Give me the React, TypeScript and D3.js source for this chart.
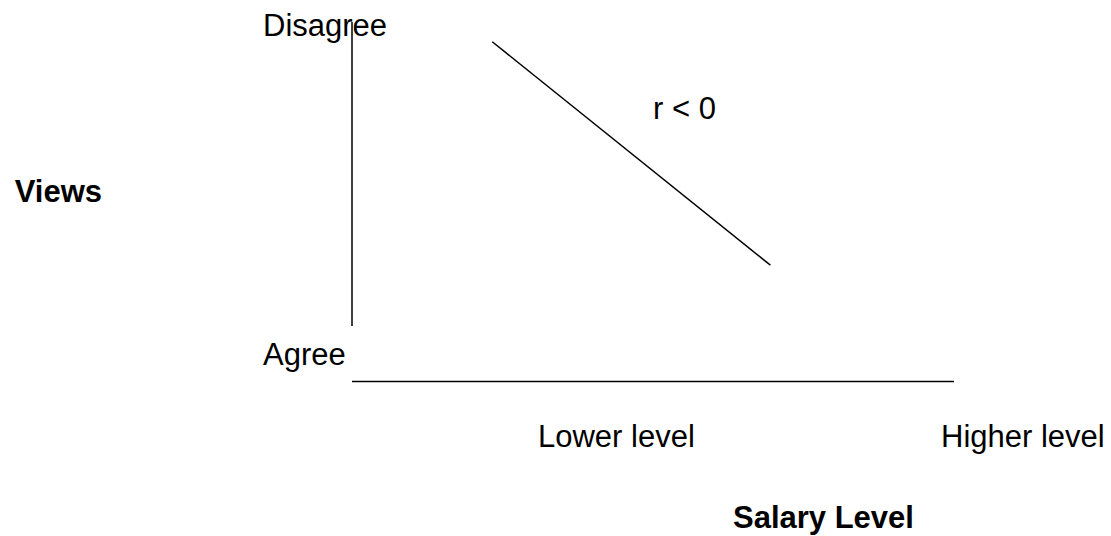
import React from "react";
import * as d3 from "d3";

// Conceptual diagram: views vs salary level, negative correlation
const yLabels = ["Agree", "Disagree"];
const xLabels = ["Lower level", "Higher level"];
const trendLine = [
  { salary: 0.233, view: 0.935 },
  { salary: 0.695, view: 0.2 },
];
const corrLabel = "r < 0";
const xTitle = "Salary Level";
const yTitle = "Views";

const width = 1111;
const height = 536;

const App: React.FC = () => {
  // axes span in pixels
  const xScale = d3.scaleLinear().domain([0, 1]).range([352, 954]);
  const yScale = d3.scaleLinear().domain([0, 1]).range([326, 22]);

  const line = d3
    .line<{ salary: number; view: number }>()
    .x((d) => xScale(d.salary))
    .y((d) => yScale(d.view));

  const font = "'Liberation Sans', Arial, sans-serif";

  return (
    <svg
      width={width}
      height={height}
      style={{ position: "absolute", left: 0, top: 0, background: "#fff" }}
    >
      {/* vertical axis */}
      <line
        x1={xScale(0)}
        x2={xScale(0)}
        y1={yScale(1)}
        y2={yScale(0)}
        stroke="#000"
        strokeWidth={1.5}
      />
      {/* horizontal axis */}
      <line
        x1={xScale(0)}
        x2={xScale(1)}
        y1={381.5}
        y2={381.5}
        stroke="#000"
        strokeWidth={1.5}
      />
      <path d={line(trendLine) || ""} fill="none" stroke="#000" strokeWidth={1.5} />

      <g fontFamily={font} fontSize={31} fill="#000">
        <text x={263} y={365}>{yLabels[0]}</text>
        <text x={263} y={36}>{yLabels[1]}</text>
        <text x={538} y={447}>{xLabels[0]}</text>
        <text x={941} y={447}>{xLabels[1]}</text>
        <text x={653} y={119}>{corrLabel}</text>
        <text x={102} y={202} fontWeight="bold" textAnchor="end">{yTitle}</text>
        <text x={733} y={528} fontWeight="bold">{xTitle}</text>
      </g>
    </svg>
  );
};

export default App;
